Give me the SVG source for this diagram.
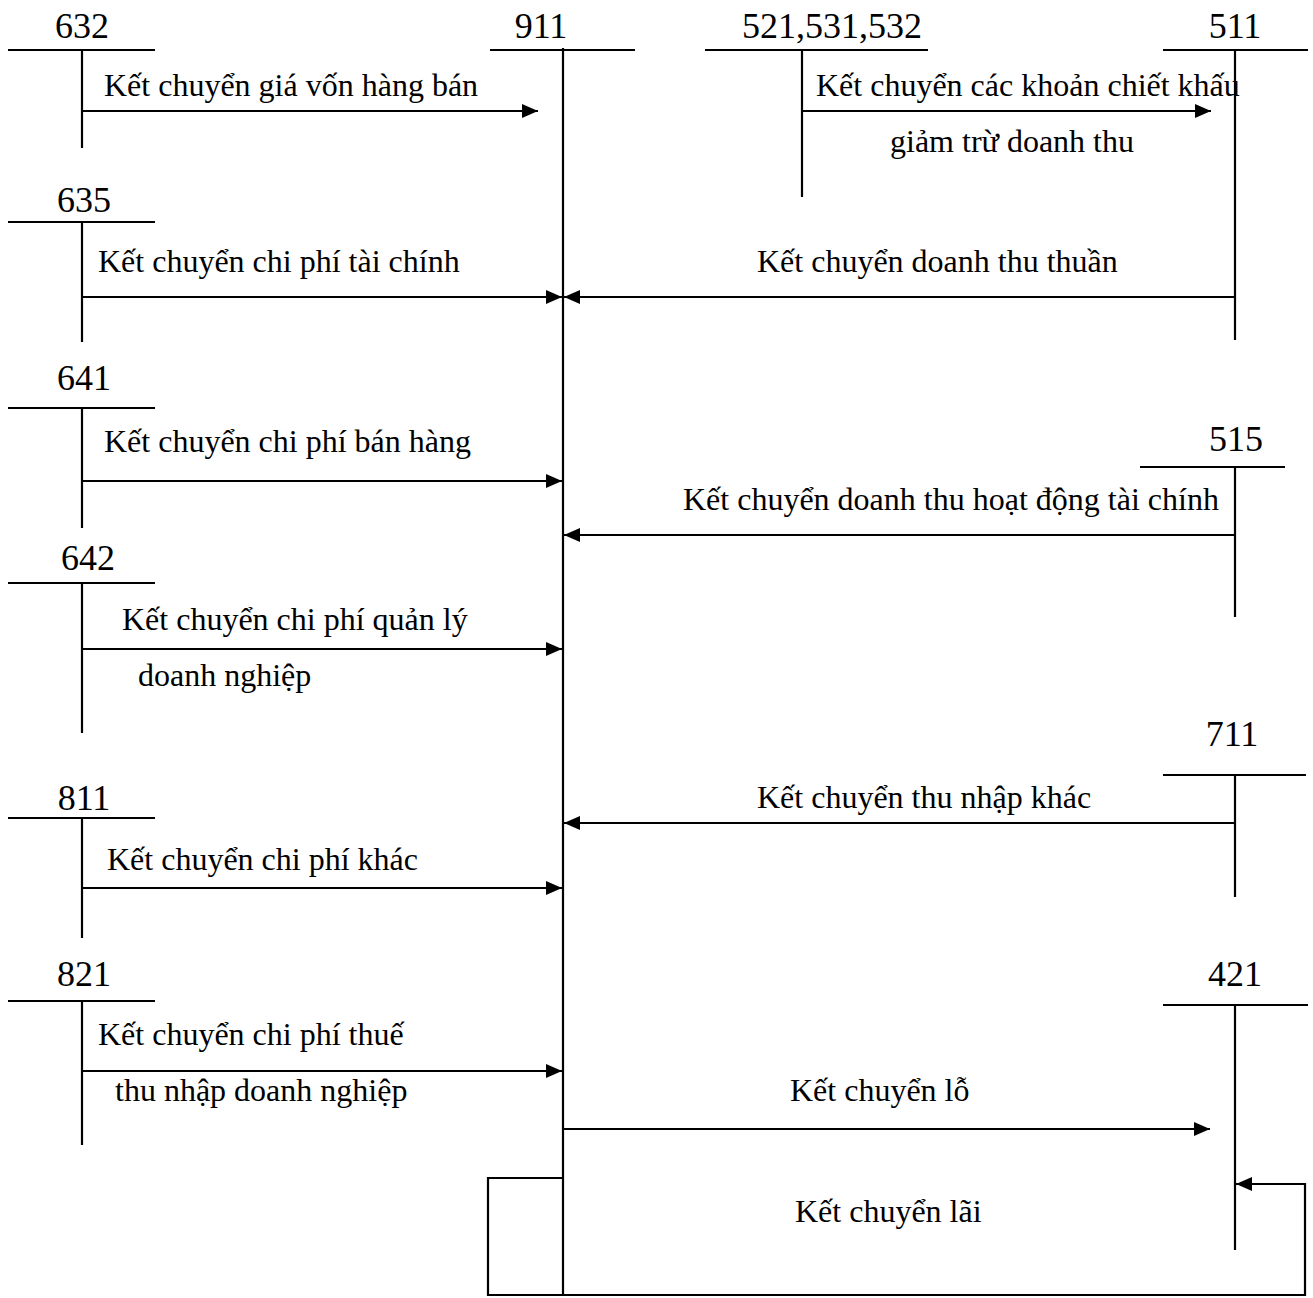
<svg xmlns="http://www.w3.org/2000/svg" width="1313" height="1298" viewBox="0 0 1313 1298">
<style>
.ln{stroke:#000;stroke-width:2.2;fill:none}
.ar{stroke:#000;stroke-width:2.2;fill:none;marker-end:url(#ah)}
.num{font-family:"Liberation Serif","Times New Roman",serif;font-size:36px;fill:#000;text-anchor:middle}
.lb{font-family:"Liberation Serif","Times New Roman",serif;font-size:32px;fill:#000}
</style>
<defs>
<marker id="ah" viewBox="0 0 16 14" refX="16" refY="7" markerWidth="16" markerHeight="14" markerUnits="userSpaceOnUse" orient="auto">
<path d="M0,0 L16,7 L0,14 z" fill="#000"/>
</marker>
</defs>
<rect width="1313" height="1298" fill="#fff"/>
<g id="n632"><text class="num" x="82" y="38">632</text><line class="ln" x1="8" y1="50" x2="155" y2="50"/><line class="ln" x1="82" y1="50" x2="82" y2="148"/></g>
<g id="n911"><text class="num" x="541" y="38">911</text><line class="ln" x1="490" y1="50" x2="635" y2="50"/><line class="ln" x1="563" y1="48" x2="563" y2="1296"/></g>
<g id="n521"><text class="num" x="832" y="38">521,531,532</text><line class="ln" x1="705" y1="50" x2="928" y2="50"/><line class="ln" x1="802" y1="50" x2="802" y2="197"/></g>
<g id="n511"><text class="num" x="1235" y="38">511</text><line class="ln" x1="1163" y1="50" x2="1308" y2="50"/><line class="ln" x1="1235" y1="50" x2="1235" y2="340"/></g>
<g id="n635"><text class="num" x="84" y="212">635</text><line class="ln" x1="8" y1="222" x2="155" y2="222"/><line class="ln" x1="82" y1="222" x2="82" y2="342"/></g>
<g id="n641"><text class="num" x="84" y="390">641</text><line class="ln" x1="8" y1="408" x2="155" y2="408"/><line class="ln" x1="82" y1="408" x2="82" y2="528"/></g>
<g id="n515"><text class="num" x="1236" y="451">515</text><line class="ln" x1="1140" y1="467" x2="1285" y2="467"/><line class="ln" x1="1235" y1="467" x2="1235" y2="617"/></g>
<g id="n642"><text class="num" x="88" y="570">642</text><line class="ln" x1="8" y1="583" x2="155" y2="583"/><line class="ln" x1="82" y1="583" x2="82" y2="733"/></g>
<g id="n711"><text class="num" x="1232" y="746">711</text><line class="ln" x1="1163" y1="775" x2="1306" y2="775"/><line class="ln" x1="1235" y1="775" x2="1235" y2="897"/></g>
<g id="n811"><text class="num" x="84" y="810">811</text><line class="ln" x1="8" y1="818" x2="155" y2="818"/><line class="ln" x1="82" y1="818" x2="82" y2="938"/></g>
<g id="n821"><text class="num" x="84" y="986">821</text><line class="ln" x1="8" y1="1001" x2="155" y2="1001"/><line class="ln" x1="82" y1="1001" x2="82" y2="1145"/></g>
<g id="n421"><text class="num" x="1235" y="986">421</text><line class="ln" x1="1163" y1="1005" x2="1308" y2="1005"/><line class="ln" x1="1235" y1="1005" x2="1235" y2="1250"/></g>
<g id="connectors">
<line class="ar" x1="82" y1="111" x2="538" y2="111"/>
<text class="lb" x="104" y="96">Kết chuyển giá vốn hàng bán</text>
<line class="ar" x1="802" y1="111" x2="1211" y2="111"/>
<text class="lb" x="816" y="96">Kết chuyển các khoản chiết khấu</text>
<text class="lb" x="890" y="152">giảm trừ doanh thu</text>
<line class="ar" x1="82" y1="297" x2="562" y2="297"/>
<text class="lb" x="98" y="272">Kết chuyển chi phí tài chính</text>
<line class="ar" x1="1235" y1="297" x2="564" y2="297"/>
<text class="lb" x="757" y="272">Kết chuyển doanh thu thuần</text>
<line class="ar" x1="82" y1="481" x2="562" y2="481"/>
<text class="lb" x="104" y="452">Kết chuyển chi phí bán hàng</text>
<line class="ar" x1="1235" y1="535" x2="564" y2="535"/>
<text class="lb" x="683" y="510">Kết chuyển doanh thu hoạt động tài chính</text>
<line class="ar" x1="82" y1="649" x2="562" y2="649"/>
<text class="lb" x="122" y="630">Kết chuyển chi phí quản lý</text>
<text class="lb" x="138" y="686">doanh nghiệp</text>
<line class="ar" x1="1235" y1="823" x2="564" y2="823"/>
<text class="lb" x="757" y="808">Kết chuyển thu nhập khác</text>
<line class="ar" x1="82" y1="888" x2="562" y2="888"/>
<text class="lb" x="107" y="870">Kết chuyển chi phí khác</text>
<line class="ar" x1="82" y1="1071" x2="562" y2="1071"/>
<text class="lb" x="98" y="1045">Kết chuyển chi phí thuế</text>
<text class="lb" x="115" y="1101">thu nhập doanh nghiệp</text>
<line class="ar" x1="563" y1="1129" x2="1210" y2="1129"/>
<text class="lb" x="790" y="1101">Kết chuyển lỗ</text>
<polyline class="ar" points="563,1178 488,1178 488,1295 1305,1295 1305,1184 1236,1184"/>
<text class="lb" x="795" y="1222">Kết chuyển lãi</text>
</g>
</svg>
